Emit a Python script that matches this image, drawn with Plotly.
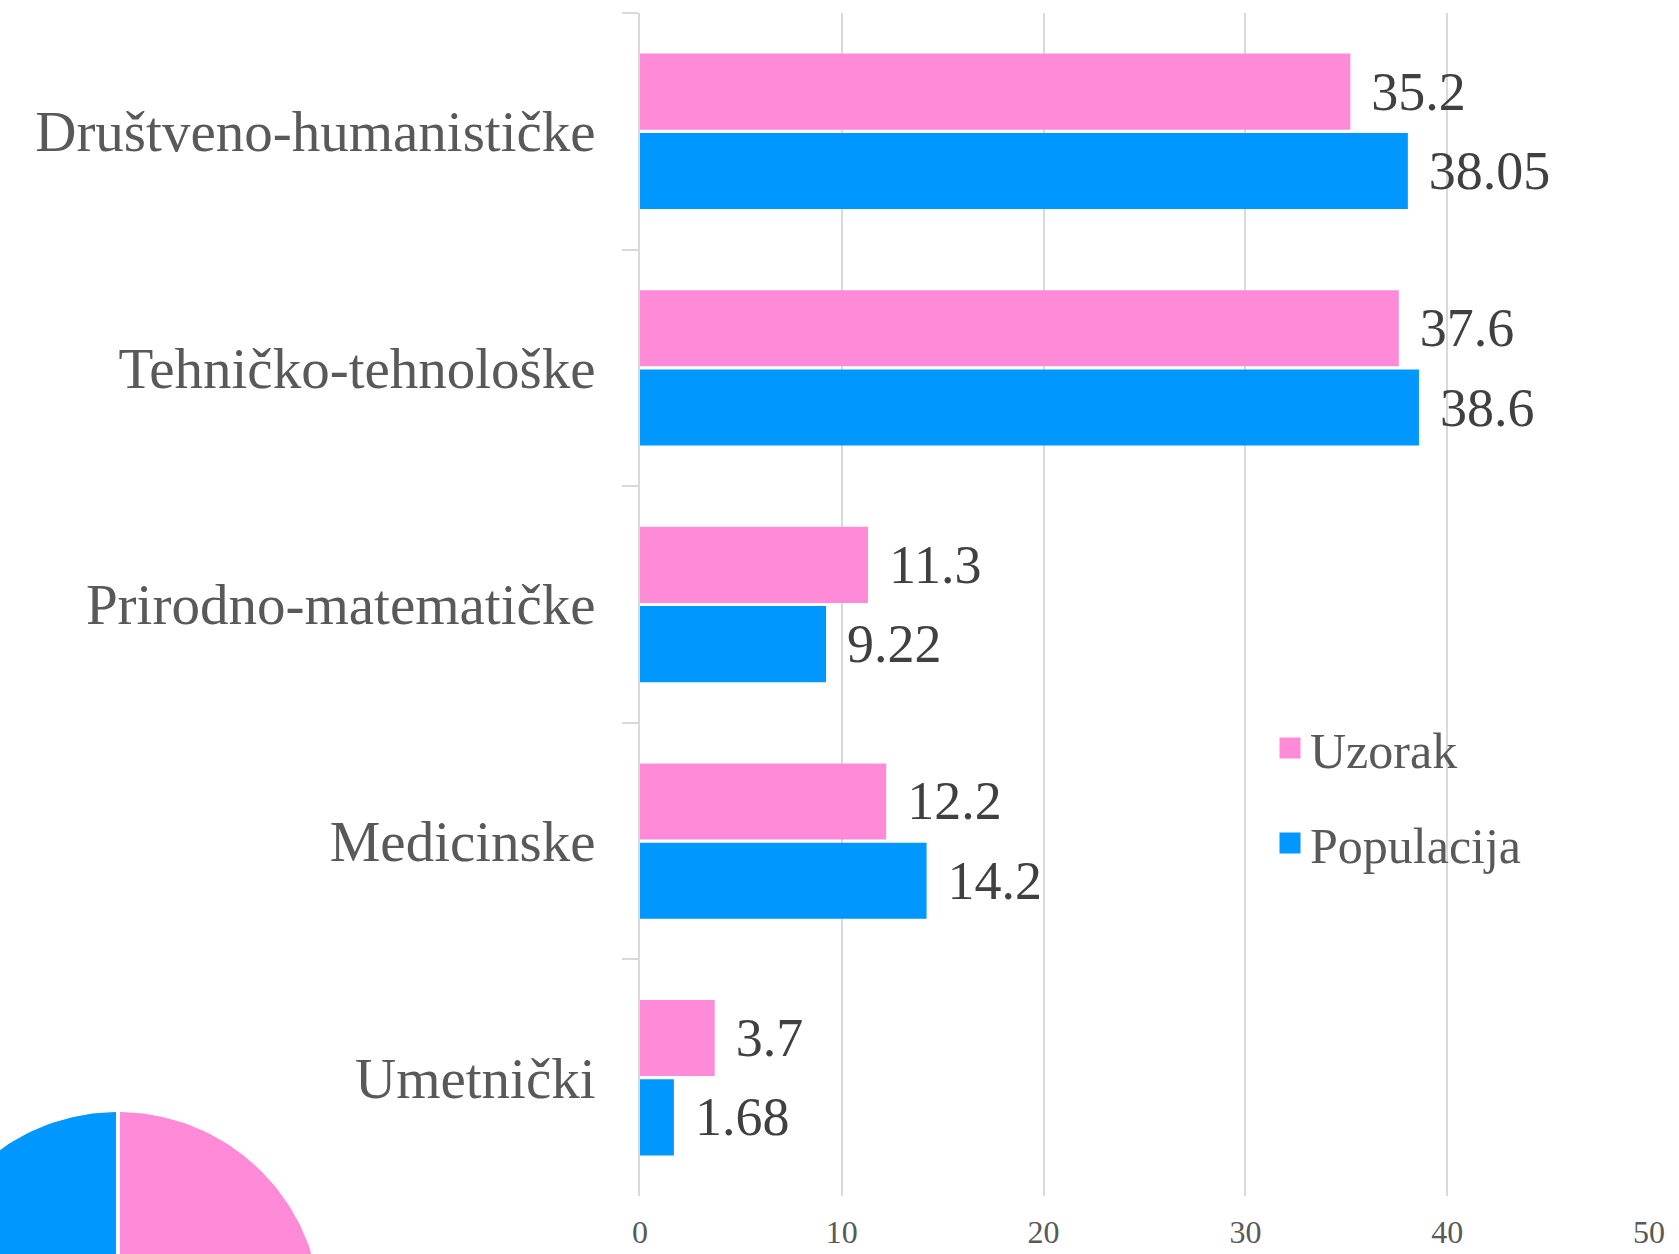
import numpy as np
import plotly.graph_objects as go

# ---- data ----
categories = ["Društveno-humanističke", "Tehničko-tehnološke", "Prirodno-matematičke",
              "Medicinske", "Umetnički"]
uzorak = [35.2, 37.6, 11.3, 12.2, 3.7]
populacija = [38.05, 38.6, 9.22, 14.2, 1.68]
x_ticks = [0, 10, 20, 30, 40, 50]
series_names = ["Uzorak", "Populacija"]
pie_values = [50, 50]   # decorative pie, partly outside the picture (Uzorak, Populacija)

PINK = "#FF8BD8"
BLUE = "#0098FF"
GRID = "#D9D9D9"
FONT = "Liberation Serif"
W, H = 1679, 1254

fig = go.Figure()

for name, vals, col in [(series_names[0], uzorak, PINK), (series_names[1], populacija, BLUE)]:
    fig.add_trace(go.Bar(
        y=categories, x=vals, orientation="h", name=name,
        marker=dict(color=col, line=dict(width=0)),
        text=["\u2004" + str(v) for v in vals],
        textposition="outside", cliponaxis=False, constraintext="none",
        textfont=dict(family=FONT, size=54, color="#404040"),
        showlegend=False, hoverinfo="x+y",
    ))

# ---- decorative pie in the lower-left corner (clipped by the picture edge) ----
cx, cy, r = 118, -61, 205
start = 90.0
shares = np.array(pie_values, dtype=float) / sum(pie_values)
# pink (Uzorak) clockwise from 12 o'clock, blue (Populacija) counter-clockwise
for share, col, direction in [(shares[0], PINK, -1), (shares[1], BLUE, 1)]:
    ang = np.radians(start + direction * np.linspace(0, 360 * share, 200))
    xs = np.concatenate([[cx], cx + r * np.cos(ang), [cx]])
    ys = np.concatenate([[cy], cy + r * np.sin(ang), [cy]])
    fig.add_trace(go.Scatter(
        x=xs, y=ys, mode="lines", fill="toself", fillcolor=col,
        line=dict(color="white", width=4), xaxis="x2", yaxis="y2",
        showlegend=False, hoverinfo="skip",
    ))

# ---- legend entries ----
for i, (name, col) in enumerate([(series_names[0], PINK), (series_names[1], BLUE)]):
    fig.add_trace(go.Scatter(
        x=[None], y=[None], mode="markers", name=name,
        marker=dict(symbol="square", size=16, color=col, line=dict(color=col, width=5)),
        xaxis="x2", yaxis="y2", legendgroup="g%d" % i, showlegend=True,
    ))

PW, PH = 336, 151
fig.update_layout(
    width=W, height=H,
    margin=dict(l=0, r=0, t=0, b=0, pad=0, autoexpand=False),
    paper_bgcolor="white", plot_bgcolor="rgba(0,0,0,0)",
    barmode="group", bargap=0.33, bargroupgap=0.04,
    font=dict(family=FONT, color="#595959"),
    xaxis=dict(
        domain=[640 / W, 1649 / W], range=[0, 50], tickvals=x_ticks,
        showgrid=True, gridcolor=GRID, gridwidth=1.5, zeroline=False,
        showline=False, ticks="", tickfont=dict(family=FONT, size=32, color="#595959"),
        ticklabelstandoff=14, fixedrange=True, automargin=False,
    ),
    yaxis=dict(
        domain=[1 - 1196 / H, 1 - 13 / H], type="category", autorange="reversed",
        showline=True, linecolor=GRID, linewidth=2,
        ticks="outside", ticklen=16, tickcolor=GRID, tickwidth=2, tickson="boundaries",
        showgrid=False, tickfont=dict(family=FONT, size=57, color="#595959"),
        ticklabelstandoff=31, fixedrange=True, automargin=False,
    ),
    xaxis2=dict(domain=[0, PW / W], range=[0, PW], anchor="y2", visible=False,
                fixedrange=True, automargin=False),
    yaxis2=dict(domain=[0, PH / H], range=[0, PH], anchor="x2", visible=False,
                fixedrange=True, automargin=False),
    legend=dict(
        x=1270 / W, y=1 - 709 / H, xanchor="left", yanchor="top",
        font=dict(family=FONT, size=50, color="#595959"),
        traceorder="grouped", tracegroupgap=27, bgcolor="rgba(0,0,0,0)",
    ),
    showlegend=True,
)

fig.write_html(
    "out.html",
    config={"displayModeBar": False},
    post_script="document.body.style.margin='0px';document.body.style.overflow='hidden';",
)
